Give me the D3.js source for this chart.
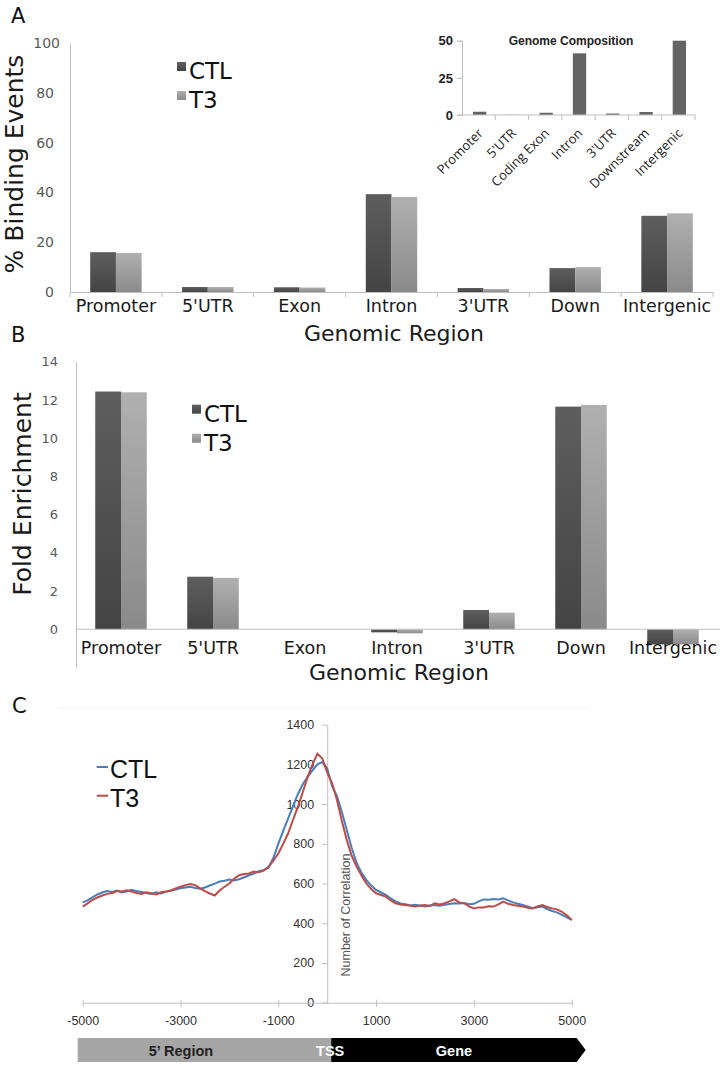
<!DOCTYPE html>
<html><head><meta charset="utf-8">
<script src="https://cdn.jsdelivr.net/npm/d3@7"></script>
<style>body{margin:0;background:#fff}svg{display:block}</style>
</head><body>
<svg id="chart" width="724" height="1067"></svg>
<script>
// ---------- data ----------
const categories = ["Promoter","5'UTR","Exon","Intron","3'UTR","Down","Intergenic"];
const seriesNames = ["CTL","T3"];
const bindingCTL = [16.0, 2.0, 1.9, 39.3, 1.6, 9.6, 30.6];
const bindingT3  = [15.7, 2.0, 1.8, 38.2, 1.2, 10.0, 31.6];
const bindingTicks = [0, 20, 40, 60, 80, 100];

const insetCategories = ["Promoter","5'UTR","Coding Exon","Intron","3'UTR","Downstream","Intergenic"];
const genomeComposition = [2.2, 0.1, 1.5, 41.5, 1.0, 2.0, 50.0];
const insetTicks = [0, 25, 50];

const enrichCTL = [12.44, 2.75, 0, -0.16, 1.01, 11.65, -0.79];
const enrichT3  = [12.40, 2.69, 0, -0.21, 0.87, 11.74, -0.79];
const enrichTicks = [0, 2, 4, 6, 8, 10, 12, 14];

const profilePositions = d3.range(-5000, 5001, 100);
const profileCTL = [505,515,530,545,555,562,558,565,555,560,568,562,558,552,548,556,550,558,564,570,
  576,580,584,578,574,580,590,600,610,614,620,616,622,632,642,650,662,668,680,730,
  800,865,927,990,1050,1100,1137,1170,1200,1212,1180,1090,1040,960,870,780,705,655,618,590,
  568,555,543,525,510,500,496,490,493,488,485,490,492,488,493,497,501,499,502,496,
  498,510,520,518,522,520,526,515,505,498,492,485,476,480,484,472,462,455,442,430,417];
const profileT3 = [484,500,517,530,540,548,552,562,560,566,560,552,548,556,551,545,556,560,565,575,
  584,592,598,592,576,562,550,540,565,584,600,625,642,648,651,660,657,665,684,715,
  751,800,852,920,986,1060,1137,1200,1254,1230,1160,1105,1021,915,820,740,685,640,601,572,
  551,542,534,515,501,495,492,488,484,490,492,487,501,495,501,510,521,505,501,485,
  475,480,480,486,484,495,509,498,492,488,484,478,475,485,492,482,475,470,458,440,417];
const profileTicksX = [-5000, -3000, -1000, 1000, 3000, 5000];
const profileTicksY = [0, 200, 400, 600, 800, 1000, 1200, 1400];
const regionLabels = ["5\u2019 Region", "TSS", "Gene"];

// ---------- setup ----------
const svg = d3.select("#chart");
svg.append("rect").attr("width",724).attr("height",1067).attr("fill","#fff");
const defs = svg.append("defs");
function grad(id, c0, c1){
  const g = defs.append("linearGradient").attr("id", id).attr("x1",0).attr("y1",0).attr("x2",0).attr("y2",1);
  g.append("stop").attr("offset","0%").attr("stop-color",c0);
  g.append("stop").attr("offset","100%").attr("stop-color",c1);
}
grad("gCTL", "#5e5e5e", "#444444");
grad("gT3", "#b0b0b0", "#8a8a8a");
const fills = {CTL: "url(#gCTL)", T3: "url(#gT3)"};
const SANS = "DejaVu Sans, sans-serif";
const AXC = "#bfbfbf";
const plain = d => String(d);

function panelLabel(t, x, y){
  svg.append("text").attr("x", x).attr("y", y).attr("font-family", SANS).attr("font-size", 21)
    .attr("fill", "#111").text(t);
}

// ---------- Panel A ----------
panelLabel("A", 11, 23);
const xA = d3.scaleBand(categories, [70, 713]);
const xAi = d3.scaleBand(seriesNames, [xA.bandwidth()*0.22, xA.bandwidth()*0.78]);
const yA = d3.scaleLinear([0, 100], [292, 43]);
const gA = svg.append("g");
const dataA = categories.map((c,i)=>({c, vals:[{s:"CTL", v:bindingCTL[i]},{s:"T3", v:bindingT3[i]}]}));
gA.selectAll("g.grp").data(dataA).join("g").attr("transform", d=>`translate(${xA(d.c)},0)`)
  .selectAll("rect").data(d=>d.vals).join("rect")
  .attr("x", d=>xAi(d.s)).attr("width", xAi.bandwidth())
  .attr("y", d=>yA(d.v)).attr("height", d=>yA(0)-yA(d.v)).attr("fill", d=>fills[d.s]);
// y axis
const yAxA = svg.append("g").attr("transform","translate(70,0)")
  .call(d3.axisLeft(yA).tickValues(bindingTicks).tickSize(0).tickPadding(16).tickFormat(plain));
yAxA.select(".domain").attr("stroke", AXC);
yAxA.selectAll("text").attr("font-family", SANS).attr("font-size", 14).attr("fill", "#595959")
  .attr("x", d => d === 100 ? -10 : -16);
// x axis
const xAxA = svg.append("g").attr("transform",`translate(0,${yA(0)})`)
  .call(d3.axisBottom(xA).tickSize(0).tickPadding(0));
xAxA.select(".domain").attr("stroke", AXC);
xAxA.selectAll("text").attr("font-family", SANS).attr("font-size", 17.5).attr("fill", "#1a1a1a")
  .attr("y", 20).attr("dy", null);
svg.append("g").selectAll("line").data(categories.concat(["__end"])).join("line")
  .attr("x1", d=> d==="__end" ? xA.range()[1] : xA(d)).attr("x2", d=> d==="__end" ? xA.range()[1] : xA(d))
  .attr("y1", yA(0)).attr("y2", yA(0)+5).attr("stroke", AXC);
svg.append("text").attr("transform","translate(23,164) rotate(-90)").attr("text-anchor","middle")
  .attr("font-family", SANS).attr("font-size", 25).attr("fill","#1a1a1a").text("% Binding Events");
svg.append("text").attr("x", 394).attr("y", 341).attr("text-anchor","middle")
  .attr("font-family", SANS).attr("font-size", 22).attr("fill","#1a1a1a").text("Genomic Region");
// legend A
function barLegend(x, y){
  const lg = svg.append("g").attr("transform", `translate(${x},${y})`);
  seriesNames.forEach((s,i)=>{
    lg.append("rect").attr("x",0).attr("y", i*29 - 17).attr("width",9).attr("height",9).attr("fill", fills[s]);
    lg.append("text").attr("x", 12).attr("y", i*29).attr("font-family", SANS).attr("font-size", 23)
      .attr("fill","#111").text(s);
  });
}
barLegend(177, 79);

// ---------- Inset ----------
const xI = d3.scaleBand(insetCategories, [462, 695]);
const yI = d3.scaleLinear([0, 50], [115, 40.7]);
const bwI = xI.bandwidth()*0.4;
svg.append("g").selectAll("rect").data(insetCategories).join("rect")
  .attr("x", (d)=>xI(d) + xI.bandwidth()/2 - bwI/2 + 1).attr("width", bwI)
  .attr("y", (d,i)=>yI(genomeComposition[i])).attr("height", (d,i)=>yI(0)-yI(genomeComposition[i]))
  .attr("fill", "#646464");
const yAxI = svg.append("g").attr("transform","translate(462,0)")
  .call(d3.axisLeft(yI).tickValues(insetTicks).tickSize(5).tickPadding(4).tickFormat(plain));
yAxI.select(".domain").attr("stroke", AXC);
yAxI.selectAll(".tick line").attr("stroke", AXC);
yAxI.selectAll("text").attr("font-family","Liberation Sans, Arial, sans-serif").attr("font-weight","bold")
  .attr("font-size", 13).attr("fill","#222");
svg.append("line").attr("x1", 457).attr("x2", xI.range()[1]).attr("y1", yI(0)).attr("y2", yI(0)).attr("stroke", AXC);
svg.append("g").selectAll("line").data(insetCategories.slice(1).concat(["__end"])).join("line")
  .attr("x1", d=> d==="__end" ? xI.range()[1] : xI(d)).attr("x2", d=> d==="__end" ? xI.range()[1] : xI(d))
  .attr("y1", yI(0)).attr("y2", yI(0)+5).attr("stroke", AXC);
svg.append("g").selectAll("text").data(insetCategories).join("text")
  .attr("transform", d=>`translate(${xI(d)+xI.bandwidth()/2+5},134) rotate(-45)`)
  .attr("text-anchor","end").attr("font-family","Open Sans, sans-serif").attr("font-size", 13)
  .attr("fill","#222").text(d=>d);
svg.append("text").attr("x", 571).attr("y", 45).attr("text-anchor","middle")
  .attr("font-family","Liberation Sans, Arial, sans-serif").attr("font-weight","bold").attr("font-size", 12)
  .attr("fill","#222").text("Genome Composition");

// ---------- Panel B ----------
panelLabel("B", 11, 342);
const xB = d3.scaleBand(categories, [75, 719]);
const xBi = d3.scaleBand(seriesNames, [xB.bandwidth()*0.22, xB.bandwidth()*0.78]);
const yB = d3.scaleLinear([-2, 14], [667.5, 361.7]);
const dataB = categories.map((c,i)=>({c, vals:[{s:"CTL", v:enrichCTL[i]},{s:"T3", v:enrichT3[i]}]}));
svg.append("g").selectAll("g").data(dataB).join("g").attr("transform", d=>`translate(${xB(d.c)},0)`)
  .selectAll("rect").data(d=>d.vals).join("rect")
  .attr("x", d=>xBi(d.s)).attr("width", xBi.bandwidth())
  .attr("y", d=>yB(Math.max(0,d.v))).attr("height", d=>Math.abs(yB(d.v)-yB(0))).attr("fill", d=>fills[d.s]);
const yAxB = svg.append("g").attr("transform","translate(76,0)")
  .call(d3.axisLeft(yB).tickValues(enrichTicks).tickSize(0).tickPadding(18).tickSizeOuter(0).tickFormat(plain));
yAxB.select(".domain").attr("stroke", AXC);
yAxB.selectAll("text").attr("font-family", SANS).attr("font-size", 13).attr("fill","#595959");
svg.append("line").attr("x1", 76).attr("x2", 720).attr("y1", yB(0)).attr("y2", yB(0)).attr("stroke", AXC);
svg.append("g").selectAll("text").data(categories).join("text")
  .attr("x", d=>xB(d)+xB.bandwidth()/2).attr("y", yB(0)+25).attr("text-anchor","middle")
  .attr("font-family", SANS).attr("font-size", 17.5).attr("fill","#1a1a1a").text(d=>d);
svg.append("text").attr("transform","translate(30.5,494) rotate(-90)").attr("text-anchor","middle")
  .attr("font-family", SANS).attr("font-size", 25).attr("fill","#1a1a1a").text("Fold Enrichment");
svg.append("text").attr("x", 399).attr("y", 680).attr("text-anchor","middle")
  .attr("font-family", SANS).attr("font-size", 22).attr("fill","#1a1a1a").text("Genomic Region");
barLegend(192, 421.7);

// ---------- Panel C ----------
panelLabel("C", 12, 713);
const LIB = "Liberation Sans, Arial, sans-serif";
const xC = d3.scaleLinear([-5000, 5000], [82.7, 571.7]);
const yC = d3.scaleLinear([0, 1400], [1002.7, 724.7]);
svg.append("line").attr("x1", 60).attr("x2", 587).attr("y1", 708).attr("y2", 708).attr("stroke", "#f3f3f3");
const yAxC = svg.append("g").attr("transform",`translate(${xC(0)},0)`)
  .call(d3.axisLeft(yC).tickValues(profileTicksY).tickSize(5).tickPadding(8).tickSizeOuter(0).tickFormat(plain));
yAxC.select(".domain").attr("stroke", AXC);
yAxC.selectAll(".tick line").attr("stroke", AXC);
yAxC.selectAll("text").attr("font-family", LIB).attr("font-size", 12.5).attr("fill","#333");
const xAxC = svg.append("g").attr("transform",`translate(0,${yC(0)})`)
  .call(d3.axisBottom(xC).tickValues(profileTicksX).tickSize(4).tickPadding(0).tickSizeOuter(0).tickFormat(plain));
xAxC.select(".domain").attr("stroke", AXC);
xAxC.selectAll(".tick line").attr("stroke", AXC).attr("y1", -3);
xAxC.selectAll("text").attr("font-family", LIB).attr("font-size", 12.5).attr("fill","#333")
  .attr("y", 22).attr("dy", null);
svg.append("text").attr("transform","translate(349.5,915) rotate(-90)").attr("text-anchor","middle")
  .attr("font-family", LIB).attr("font-size", 12.5).attr("fill","#555").text("Number of Correlation");
const line = d3.line().x((d,i)=>xC(profilePositions[i])).y(d=>yC(d));
const colors = {CTL: "#4a7ebb", T3: "#be4b48"};
svg.append("path").datum(profileCTL).attr("d", line).attr("fill","none").attr("stroke", colors.CTL).attr("stroke-width", 2);
svg.append("path").datum(profileT3).attr("d", line).attr("fill","none").attr("stroke", colors.T3).attr("stroke-width", 2);
// legend C
seriesNames.forEach((s,i)=>{
  const y0 = 778 + i*28.7;
  svg.append("line").attr("x1", 96.7).attr("x2", 108).attr("y1", y0-11).attr("y2", y0-11)
    .attr("stroke", colors[s]).attr("stroke-width", 2);
  svg.append("text").attr("x", 110).attr("y", y0).attr("font-family", LIB).attr("font-size", 25)
    .attr("fill","#111").text(s);
});
// region arrow
const ay0 = 1038, ay1 = 1062;
svg.append("rect").attr("x", xC(-5000)-5).attr("y", ay0).attr("width", xC(0)+4-(xC(-5000)-5)).attr("height", ay1-ay0).attr("fill","#a6a6a6");
const bx0 = xC(0)+4, bx1 = xC(5000)+5;
svg.append("path").attr("d", `M${bx0},${ay0}L${bx1},${ay0}L${bx1+9},${(ay0+ay1)/2}L${bx1},${ay1}L${bx0},${ay1}Z`).attr("fill","#000");
svg.append("text").attr("x", (xC(-5000)+xC(0))/2 - 24).attr("y", 1056).attr("text-anchor","middle")
  .attr("font-family", LIB).attr("font-weight","bold").attr("font-size", 14.5).attr("fill","#222").text(regionLabels[0]);
svg.append("text").attr("x", xC(0)+3).attr("y", 1056).attr("text-anchor","middle")
  .attr("font-family", LIB).attr("font-weight","bold").attr("font-size", 14.5).attr("fill","#fff").text(regionLabels[1]);
svg.append("text").attr("x", (bx0+bx1)/2).attr("y", 1056).attr("text-anchor","middle")
  .attr("font-family", LIB).attr("font-weight","bold").attr("font-size", 14.5).attr("fill","#fff").text(regionLabels[2]);
</script>
</body></html>
